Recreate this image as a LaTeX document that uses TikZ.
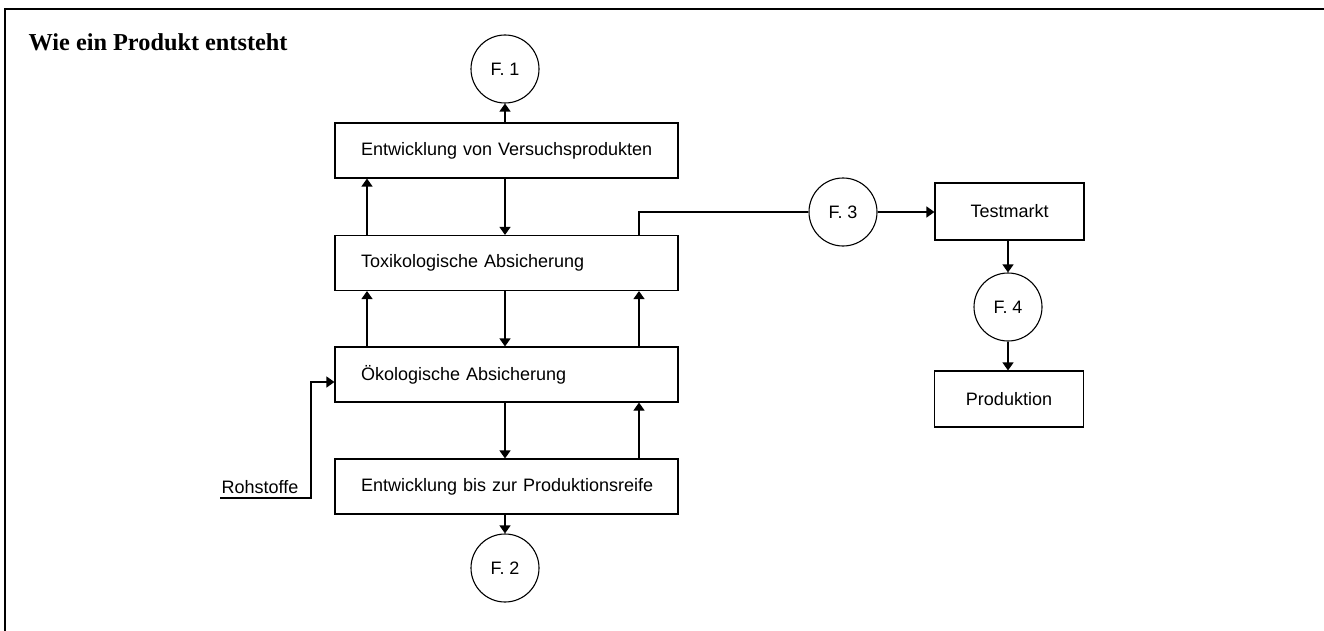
\documentclass[tikz,border=0pt]{standalone}
\usepackage{fontspec}
\setmainfont{Liberation Sans}
\newfontfamily\titlefont{Liberation Serif}
\usetikzlibrary{arrows.meta}
\begin{document}
\begin{tikzpicture}[x=1pt,y=-1pt,
  line width=1.1pt,
  box/.style={draw,rectangle,minimum height=55pt,inner sep=0pt,font=\fontsize{18}{20}\selectfont},
  lbox/.style={box,text width=291pt,inner xsep=26pt,align=left},
  cbox/.style={box,minimum width=149pt,minimum height=57pt},
  fcirc/.style={draw,circle,minimum size=68pt,inner sep=0pt,font=\fontsize{18}{20}\selectfont},
  arr/.style={-{Triangle[length=8pt,width=11pt]}}]
\useasboundingbox (0,0) rectangle (1324,631);
% frame
\draw[line width=2pt] (5,631) -- (5,9) -- (1324,9);
\node[anchor=base west,font=\titlefont\bfseries\fontsize{24.3}{26}\selectfont,inner sep=0pt] (title) at (28,51) {Wie ein Produkt entsteht};
% main column
\node[lbox] (b1) at (506.5,150.5) {\mbox{Entwicklung von Versuchsprodukten}};
\node[lbox] (b2) at (506.5,263) {\mbox{Toxikologische Absicherung}};
\node[lbox] (b3) at (506.5,374.5) {\mbox{Ökologische Absicherung}};
\node[lbox] (b4) at (506.5,486.5) {\mbox{Entwicklung bis zur Produktionsreife}};
\node[fcirc] (f1) at (505,69) {F. 1};
\node[fcirc] (f2) at (505,568) {F. 2};
\coordinate (xl) at (367,0);
\coordinate (xm) at (505,0);
\coordinate (xr) at (639,0);
\draw[arr] (b1.north -| xm) -- (f1);
\draw[arr] (b4.south -| xm) -- (f2);
\draw[arr] (b2.north -| xl) -- (b1.south -| xl);
\draw[arr] (b1.south -| xm) -- (b2.north -| xm);
\draw[arr] (b3.north -| xl) -- (b2.south -| xl);
\draw[arr] (b2.south -| xm) -- (b3.north -| xm);
\draw[arr] (b3.north -| xr) -- (b2.south -| xr);
\draw[arr] (b3.south -| xm) -- (b4.north -| xm);
\draw[arr] (b4.north -| xr) -- (b3.south -| xr);
% right branch
\node[fcirc] (f3) at (843,212) {F. 3};
\node[cbox] (tm) at (1009.5,211.5) {Testmarkt};
\node[fcirc] (f4) at (1008,307) {F. 4};
\node[cbox,minimum height=56pt] (pr) at (1009,399) {Produktion};
\draw (b2.north -| xr) |- (f3.west);
\draw[arr] (f3.east) -- (tm.west |- f3.east);
\draw[arr] (tm.south -| f4) -- (f4);
\draw[arr] (f4) -- (pr.north -| f4);
% Rohstoffe
\node[anchor=base west,inner sep=0pt,font=\fontsize{18}{20}\selectfont] (roh) at (221,493) {Rohstoffe};
\coordinate (rl) at (220,498);
\coordinate (rc) at (311,498);
\draw[arr] (rl) -- (rc) |- (b3.west |- 0,382);
\end{tikzpicture}
\end{document}
